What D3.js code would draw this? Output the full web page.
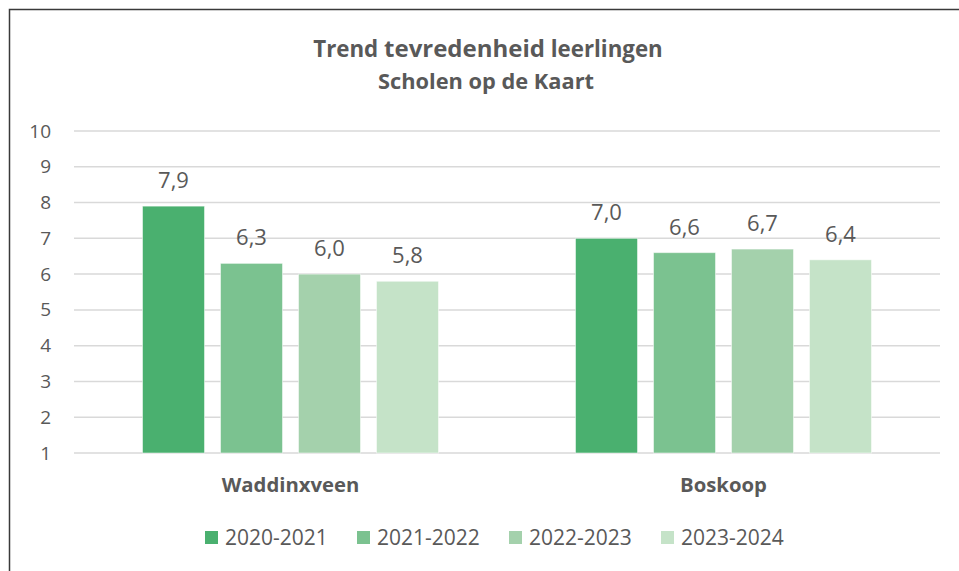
<!DOCTYPE html>
<html>
<head>
<meta charset="utf-8">
<script src="https://cdn.jsdelivr.net/npm/d3@7"></script>
<style>
  body { margin: 0; background: #fff; }
  svg { display: block; font-family: "Open Sans", sans-serif; }
</style>
</head>
<body>
<svg width="959" height="571"></svg>
<script>
var categories = ["Waddinxveen", "Boskoop"];
var seasons = ["2020-2021", "2021-2022", "2022-2023", "2023-2024"];
var scores = {
  "Waddinxveen": [7.9, 6.3, 6.0, 5.8],
  "Boskoop": [7.0, 6.6, 6.7, 6.4]
};
var yTicks = [1, 2, 3, 4, 5, 6, 7, 8, 9, 10];
var colors = ["#4ab06f", "#7bc290", "#a4d1ac", "#c5e3c8"];

var svg = d3.select("svg"),
    textColor = "#595959";

// chart frame (only left and top edges are visible)
svg.append("rect")
    .attr("x", 9.5).attr("y", 9.5)
    .attr("width", 1000).attr("height", 1000)
    .attr("fill", "none")
    .attr("stroke", "#3a3a3a")
    .attr("stroke-width", 1.5);

// title
var title = svg.append("text")
    .attr("x", 488).attr("y", 57)
    .attr("text-anchor", "middle")
    .attr("fill", textColor)
    .attr("font-weight", "bold")
    .attr("font-size", 22.3);
title.append("tspan").text("Trend ");
title.append("tspan").attr("font-size", 24).text("tevredenheid");
title.append("tspan").text(" leerlingen");

svg.append("text")
    .attr("x", 486).attr("y", 89)
    .attr("text-anchor", "middle")
    .attr("fill", textColor)
    .attr("font-weight", "bold")
    .attr("font-size", 21.8)
    .text("Scholen op de Kaart");

var x0 = d3.scaleBand()
    .domain(categories)
    .range([74, 940]);

var x1 = d3.scaleBand()
    .domain(seasons)
    .range([-148, 148])
    .paddingInner(0.205);

var y = d3.scaleLinear()
    .domain([1, 10])
    .range([453, 131]);

// gridlines
svg.append("g")
    .selectAll("line")
    .data(yTicks)
    .enter().append("line")
    .attr("x1", 74).attr("x2", 940)
    .attr("y1", function(d) { return y(d); })
    .attr("y2", function(d) { return y(d); })
    .attr("stroke", "#d9d9d9")
    .attr("stroke-width", 1.5);

// y axis labels
var yAxis = svg.append("g")
    .attr("transform", "translate(74,0)")
    .call(d3.axisLeft(y).tickValues(yTicks).tickSize(0).tickPadding(23));
yAxis.select(".domain").remove();
yAxis.selectAll("text")
    .attr("font-family", "Open Sans, sans-serif")
    .attr("font-size", 19)
    .attr("fill", textColor);

// bars
var groups = svg.append("g")
    .selectAll("g")
    .data(categories)
    .enter().append("g")
    .attr("transform", function(d) { return "translate(" + (x0(d) + x0.bandwidth() / 2) + ",0)"; });

groups.selectAll("rect")
    .data(function(c) { return scores[c].map(function(v, i) { return { season: seasons[i], value: v, i: i }; }); })
    .enter().append("rect")
    .attr("x", function(d) { return x1(d.season); })
    .attr("width", x1.bandwidth())
    .attr("y", function(d) { return y(d.value); })
    .attr("height", function(d) { return y(1) - y(d.value); })
    .attr("fill", function(d) { return colors[d.i]; })
    .attr("stroke", "#ffffff")
    .attr("stroke-opacity", 0.5)
    .attr("stroke-width", 1);

groups.selectAll("text.value")
    .data(function(c) { return scores[c].map(function(v, i) { return { season: seasons[i], value: v }; }); })
    .enter().append("text")
    .attr("class", "value")
    .attr("x", function(d) { return x1(d.season) + x1.bandwidth() / 2; })
    .attr("y", function(d) { return y(d.value) - 18; })
    .attr("text-anchor", "middle")
    .attr("font-size", 22)
    .attr("fill", textColor)
    .text(function(d) { return d.value.toFixed(1).replace(".", ","); });

// category labels
svg.append("g")
    .selectAll("text")
    .data(categories)
    .enter().append("text")
    .attr("x", function(d) { return x0(d) + x0.bandwidth() / 2; })
    .attr("y", 492)
    .attr("text-anchor", "middle")
    .attr("font-weight", "bold")
    .attr("font-size", 20.3)
    .attr("fill", textColor)
    .text(function(d) { return d; });

// legend
var legend = svg.append("g")
    .selectAll("g")
    .data(seasons)
    .enter().append("g")
    .attr("transform", function(d, i) { return "translate(" + (205 + i * 152) + ",531)"; });

legend.append("rect")
    .attr("width", 13).attr("height", 13)
    .attr("fill", function(d, i) { return colors[i]; });

legend.append("text")
    .attr("x", 20).attr("y", 14)
    .attr("font-size", 21)
    .attr("fill", textColor)
    .text(function(d) { return d; });
</script>
</body>
</html>
